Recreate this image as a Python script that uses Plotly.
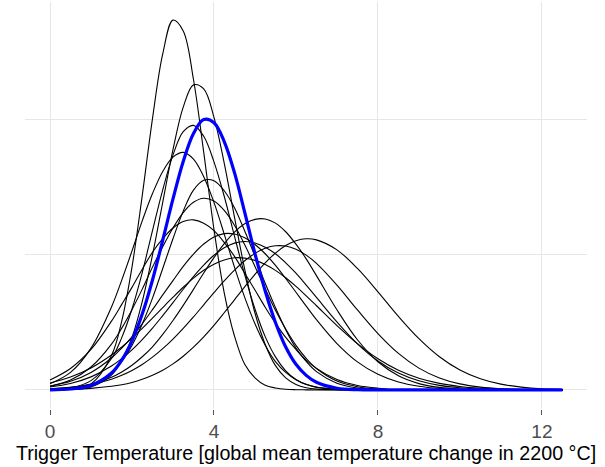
import plotly.graph_objects as go

# Trigger temperature grid (°C); finer spacing where the curves bend most
temps = [0.0, 0.5, 1.0, 1.5,
         1.75, 2.0, 2.25, 2.5, 2.75, 3.0, 3.25, 3.5, 3.75, 4.0, 4.25, 4.5, 4.75, 5.0,
         5.25, 5.5, 5.75, 6.0, 6.25, 6.5,
         7.0, 7.5, 8.0, 8.5, 9.0, 9.5, 10.0, 10.5, 11.0, 11.5, 12.0, 12.5]

# Density curves (arbitrary density units)
curve_a = [0.00, 0.005, 0.044, 0.255, 0.51, 0.91, 1.44, 2.01, 2.49, 2.74, 2.66, 2.30, 1.76, 1.19,
           0.72, 0.40, 0.19, 0.09, 0.035, 0.015, 0.005, 0.002, 0.001, 0,
           0, 0, 0, 0, 0, 0, 0, 0, 0, 0, 0, 0]
curve_b = [0.00, 0.003, 0.022, 0.11, 0.218, 0.39, 0.655, 1.00, 1.39, 1.78, 2.095, 2.26, 2.23, 2.02,
           1.68, 1.28, 0.894, 0.57, 0.337, 0.18, 0.09, 0.041, 0.017, 0.006,
           0.001, 0, 0, 0, 0, 0, 0, 0, 0, 0, 0, 0]
curve_c = [0.003, 0.015, 0.069, 0.233, 0.388, 0.60, 0.87, 1.18, 1.483, 1.74, 1.913, 1.96, 1.879, 1.69,
           1.435, 1.14, 0.853, 0.60, 0.395, 0.245, 0.142, 0.078, 0.04, 0.019,
           0.004, 0.001, 0, 0, 0, 0, 0, 0, 0, 0, 0, 0]
curve_d = [0.046, 0.13, 0.31, 0.615, 0.814, 1.03, 1.253, 1.455, 1.619, 1.725, 1.76, 1.71, 1.58, 1.39,
           1.155, 0.91, 0.686, 0.49, 0.332, 0.21, 0.13, 0.076, 0.042, 0.022,
           0.005, 0.001, 0, 0, 0, 0, 0, 0, 0, 0, 0, 0]
curve_e = [0.002, 0.01, 0.039, 0.128, 0.211, 0.33, 0.488, 0.68, 0.90, 1.12, 1.325, 1.48, 1.553, 1.55,
           1.476, 1.35, 1.177, 0.99, 0.79, 0.61, 0.446, 0.31, 0.211, 0.136,
           0.05, 0.015, 0.004, 0.001, 0, 0, 0, 0, 0, 0, 0, 0]
curve_f = [0.028, 0.074, 0.17, 0.34, 0.458, 0.595, 0.747, 0.91, 1.061, 1.20, 1.314, 1.39, 1.42, 1.40,
           1.33, 1.22, 1.075, 0.915, 0.749, 0.59, 0.451, 0.33, 0.234, 0.159,
           0.066, 0.024, 0.007, 0.002, 0, 0, 0, 0, 0, 0, 0, 0]
curve_g = [0.074, 0.159, 0.30, 0.51, 0.634, 0.76, 0.894, 1.02, 1.121, 1.20, 1.248, 1.26, 1.235, 1.18,
           1.093, 0.99, 0.865, 0.74, 0.613, 0.495, 0.389, 0.30, 0.221, 0.16,
           0.077, 0.033, 0.013, 0.004, 0.001, 0, 0, 0, 0, 0, 0, 0]
curve_h = [0.007, 0.019, 0.044, 0.094, 0.133, 0.183, 0.246, 0.32, 0.412, 0.515, 0.627, 0.745, 0.866, 0.98,
           1.084, 1.17, 1.231, 1.264, 1.267, 1.236, 1.172, 1.08, 0.971, 0.847,
           0.594, 0.372, 0.209, 0.105, 0.047, 0.019, 0.007, 0.002, 0.001, 0, 0, 0]
curve_i = [0.002, 0.005, 0.012, 0.027, 0.039, 0.056, 0.079, 0.109, 0.146, 0.193, 0.25, 0.317, 0.394, 0.479,
           0.572, 0.668, 0.764, 0.857, 0.942, 1.014, 1.07, 1.106, 1.12, 1.112,
           1.038, 0.90, 0.727, 0.545, 0.38, 0.246, 0.148, 0.083, 0.043, 0.021, 0.009, 0.004]
curve_j = [0.029, 0.064, 0.13, 0.237, 0.31, 0.394, 0.49, 0.595, 0.704, 0.81, 0.916, 1.007, 1.081, 1.133,
           1.158, 1.155, 1.128, 1.078, 1.009, 0.923, 0.826, 0.724, 0.621, 0.521,
           0.344, 0.208, 0.116, 0.059, 0.028, 0.012, 0.005, 0.002, 0.001, 0, 0, 0]
curve_k = [0.022, 0.048, 0.097, 0.177, 0.232, 0.297, 0.373, 0.458, 0.551, 0.647, 0.746, 0.84, 0.925, 0.998,
           1.053, 1.088, 1.10, 1.089, 1.058, 1.009, 0.942, 0.865, 0.777, 0.686,
           0.504, 0.342, 0.215, 0.125, 0.068, 0.034, 0.016, 0.007, 0.003, 0.001, 0, 0]
curve_l = [0.008, 0.019, 0.041, 0.08, 0.109, 0.145, 0.189, 0.243, 0.306, 0.377, 0.456, 0.541, 0.631, 0.721,
           0.808, 0.888, 0.957, 1.012, 1.05, 1.068, 1.066, 1.042, 0.999, 0.938,
           0.777, 0.593, 0.418, 0.271, 0.162, 0.089, 0.045, 0.021, 0.009, 0.004, 0.001, 0]
curve_m = [0.052, 0.096, 0.163, 0.259, 0.318, 0.384, 0.456, 0.532, 0.61, 0.687, 0.761, 0.829, 0.887, 0.932,
           0.963, 0.979, 0.977, 0.96, 0.93, 0.886, 0.831, 0.767, 0.697, 0.624,
           0.477, 0.343, 0.231, 0.146, 0.087, 0.049, 0.026, 0.013, 0.006, 0.003, 0.001, 0]
black_curves = [curve_a, curve_b, curve_c, curve_d, curve_e, curve_f, curve_g,
                curve_h, curve_i, curve_j, curve_k, curve_l, curve_m]

# Highlighted (blue) curve
curve_blue = [0.001, 0.007, 0.034, 0.126, 0.221, 0.364, 0.562, 0.815, 1.109, 1.415, 1.693, 1.90, 2.003, 1.98,
              1.84, 1.61, 1.316, 1.01, 0.733, 0.50, 0.318, 0.19, 0.108, 0.057,
              0.013, 0.002, 0, 0, 0, 0, 0, 0, 0, 0, 0, 0]

x_ticks = [0, 4, 8, 12]
x_tick_labels = ["0", "4", "8", "12"]
y_grid = [0, 1, 2]

for ys in black_curves + [curve_blue]:
    assert len(ys) == len(temps)

fig = go.Figure()
for ys in black_curves:
    fig.add_trace(go.Scatter(x=temps, y=ys, mode="lines",
                             line=dict(color="black", width=1.1, shape="spline", smoothing=1.0),
                             showlegend=False, hoverinfo="skip"))
fig.add_trace(go.Scatter(x=temps, y=curve_blue, mode="lines",
                         line=dict(color="#0000FF", width=3.2, shape="spline", smoothing=1.0),
                         showlegend=False, hoverinfo="skip"))

font_family = "Arial, 'Liberation Sans', sans-serif"
fig.update_layout(
    width=605, height=467,
    margin=dict(l=25, r=18, t=2, b=58),
    paper_bgcolor="white", plot_bgcolor="white",
    font=dict(family=font_family),
    xaxis=dict(
        range=[-0.61, 13.1],
        tickvals=x_ticks, ticktext=x_tick_labels,
        showgrid=True, gridcolor="#e6e6e6", gridwidth=1.2,
        zeroline=False, showline=False,
        ticks="outside", ticklen=5, tickwidth=1, tickcolor="#555555",
        tickfont=dict(size=19, color="#4d4d4d", family=font_family),
        title=dict(text="Trigger Temperature [global mean temperature change in 2200 °C]",
                   font=dict(size=19.7, color="black", family=font_family), standoff=1),
        automargin=False,
    ),
    yaxis=dict(
        range=[-0.141, 2.874],
        tickvals=y_grid, showticklabels=False,
        showgrid=True, gridcolor="#e6e6e6", gridwidth=1.2,
        zeroline=False, showline=False, ticks="",
        automargin=False,
    ),
)

fig.write_html("out.html")
